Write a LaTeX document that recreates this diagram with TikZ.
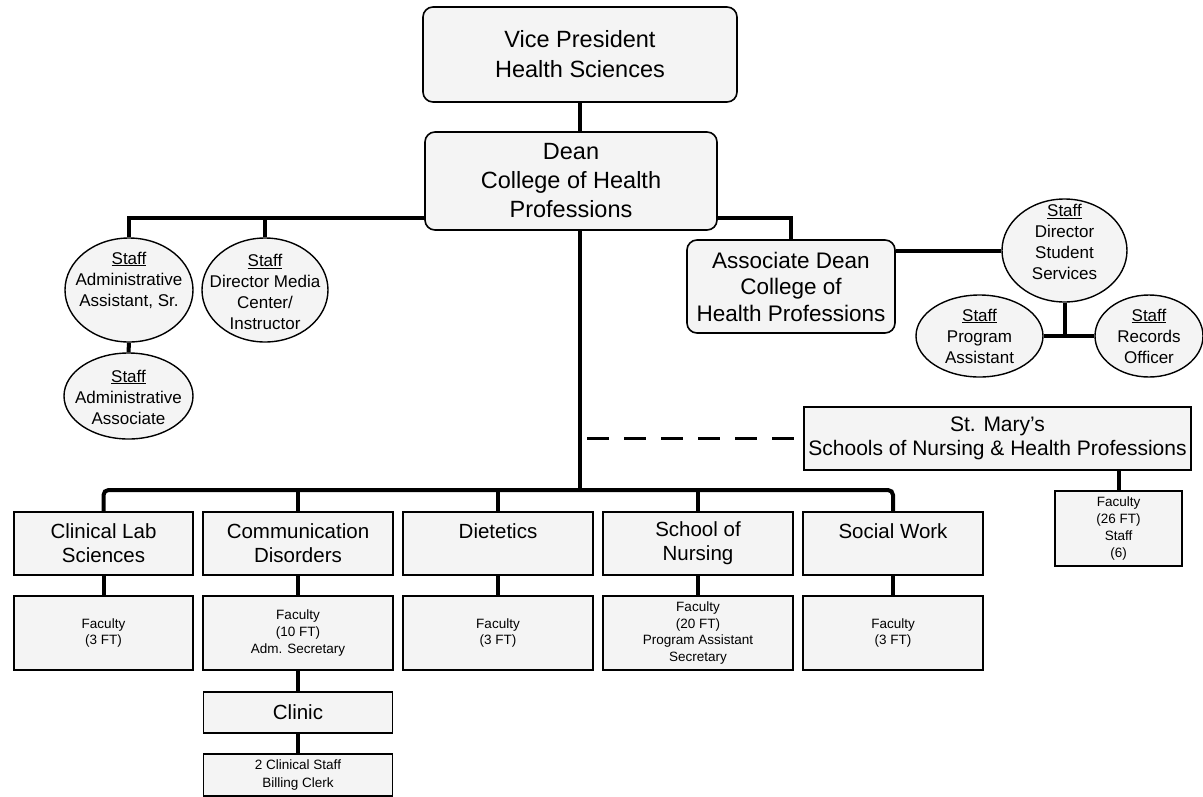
\documentclass[tikz,border=0pt]{standalone}
\usepackage{fontspec}
\setmainfont{Liberation Sans}
\usetikzlibrary{shapes.geometric}
\definecolor{boxfill}{gray}{0.955}
\newcommand\fsz[2]{\fontsize{#1}{#2}\selectfont}
\begin{document}
\begin{tikzpicture}[x=1pt,y=-1pt,
  conn/.style={line width=4pt},
  dashconn/.style={line width=3.5pt, dash pattern=on 22pt off 15pt},
  rbox/.style={draw, line width=1.6pt, rounded corners=10pt, fill=boxfill, align=center, inner sep=0pt},
  sbox/.style={draw, line width=1.6pt, fill=boxfill, align=center, inner sep=0pt},
  oval/.style={draw, ellipse, line width=1.4pt, fill=boxfill, inner sep=0pt},
  otext/.style={align=center, inner sep=0pt, font=\fsz{17}{21}},
  unit/.style={sbox, minimum height=63pt, font=\fsz{20.5}{24}},
  small/.style={sbox, minimum height=74pt, font=\fsz{13.5}{16.7}}
]
\useasboundingbox (0,0) rectangle (1203,796);
\clip (0,0) rectangle (1203,796);

% top
\node[rbox, minimum width=314pt, minimum height=95pt, font=\fsz{23.5}{30}] (vp) at (580,54.5) {Vice President\\Health Sciences};
\node[rbox, minimum width=292pt, minimum height=98pt, font=\fsz{23.5}{29}] (dean) at (571,181) {Dean\\College of Health\\Professions};
\node[rbox, minimum width=208pt, minimum height=93pt, font=\fsz{22.5}{26.5}] (assoc) at (791,286.5) {Associate Dean\\College of\\Health Professions};

% staff ellipses
\node[oval, minimum width=128pt, minimum height=104pt] (aas) at (129,290) {};
\node[otext] (aast) at (129,280) {\underline{Staff}\\Administrative\\Assistant, Sr.};
\node[oval, minimum width=126pt, minimum height=104pt] (dmc) at (265,290) {};
\node[otext] (dmct) at (265,292) {\underline{Staff}\\Director Media\\Center/\\Instructor};
\node[oval, minimum width=129pt, minimum height=86pt] (aac) at (128.5,396) {};
\node[otext] (aact) at (128.5,397) {\underline{Staff}\\Administrative\\Associate};
\node[oval, minimum width=125pt, minimum height=103pt] (dss) at (1064.5,250.5) {};
\node[otext] (dsst) at (1064.5,242) {\underline{Staff}\\Director\\Student\\Services};
\node[oval, minimum width=127pt, minimum height=82pt] (pa) at (979.5,336) {};
\node[otext] (pat) at (979.5,336) {\underline{Staff}\\Program\\Assistant};
\node[oval, minimum width=108pt, minimum height=82pt] (ro) at (1149,336) {};
\node[otext] (rot) at (1149,336) {\underline{Staff}\\Records\\Officer};

% St. Mary's
\node[sbox, minimum width=387pt, minimum height=63pt, font=\fsz{21}{23.5}] (stm) at (997.5,438.5) {St. Mary's\\Schools of Nursing \& Health Professions};
\node[sbox, minimum width=127pt, minimum height=75pt, font=\fsz{13.5}{17}] (stmf) at (1118.5,528.5) {Faculty\\(26 FT)\\Staff\\(6)};

% units
\node[unit, minimum width=179pt] (cl) at (103.5,543.5) {Clinical Lab\\Sciences};
\node[unit, minimum width=190pt] (cd) at (298,543.5) {Communication\\Disorders};
\node[unit, minimum width=190pt] (di) at (498,543.5) {Dietetics\\\mbox{}};
\node[unit, minimum width=190pt] (sn) at (698,543.5) {School of\\Nursing};
\node[unit, minimum width=180pt] (sw) at (893,543.5) {Social Work\\\mbox{}};

\node[small, minimum width=179pt] (clf) at (103.5,633) {Faculty\\(3 FT)};
\node[small, minimum width=190pt] (cdf) at (298,633) {Faculty\\(10 FT)\\Adm. Secretary};
\node[small, minimum width=190pt] (dif) at (498,633) {Faculty\\(3 FT)};
\node[small, minimum width=190pt] (snf) at (698,633) {Faculty\\(20 FT)\\Program Assistant\\Secretary};
\node[small, minimum width=180pt] (swf) at (893,633) {Faculty\\(3 FT)};

\node[sbox, minimum width=189pt, minimum height=41pt, font=\fsz{20.5}{24}] (clinic) at (298,712.5) {Clinic};
\node[sbox, minimum width=189pt, minimum height=42pt, font=\fsz{13.5}{17.5}] (bill) at (298,775) {2 Clinical Staff\\Billing Clerk};

% connectors
\coordinate (bus) at (580,490);
\coordinate (lb) at (0,218);
\draw[conn] (vp.south) -- (vp.south |- dean.north);
\draw[conn] (vp.south |- dean.south) -- (bus);
\draw[conn] (dean.west |- lb) -| (aas.north);
\draw[conn] (dmc.north) -- (dmc.north |- lb);
\draw[conn] (dean.east |- lb) -| (assoc.north);
\draw[conn] (aas.south) -- (aac.north);
\draw[conn] (assoc.east |- dss.west) -- (dss.west);
\coordinate (jn) at (dss.south |- pa.east);
\draw[conn] (dss.south) -- (jn);
\draw[conn] (pa.east) -- (ro.west);
\draw[conn, rounded corners=5pt] (cl.north) |- (bus) -| (sw.north);
\foreach \n in {cd,di,sn} \draw[conn] (\n.north) -- (\n.north |- bus);
\foreach \a/\b in {cl/clf, cd/cdf, di/dif, sn/snf, sw/swf, cdf/clinic, clinic/bill}
  \draw[conn] (\a.south) -- (\b.north);
\draw[dashconn] (bus |- stm.west) ++(7,0) -- (stm.west);
\draw[conn] (stmf.north) -- (stmf.north |- stm.south);
\end{tikzpicture}
\end{document}
